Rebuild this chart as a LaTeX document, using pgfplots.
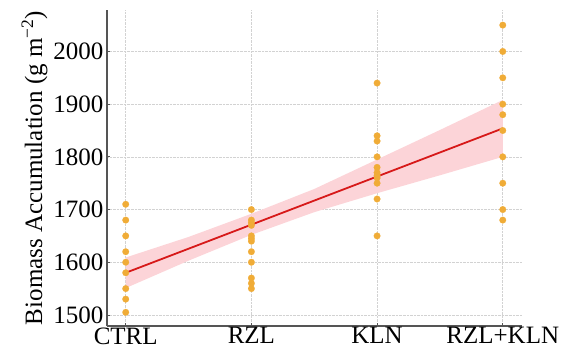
\documentclass[border=0pt]{standalone}
\usepackage{fontspec}
\setmainfont{Liberation Serif}
\usepackage{pgfplots}
\pgfplotsset{compat=1.18}
\definecolor{dotc}{RGB}{240,172,55}
\definecolor{linec}{RGB}{215,25,25}
\definecolor{bandc}{RGB}{252,212,216}
\definecolor{spinec}{RGB}{85,85,85}
\begin{document}
\begin{tikzpicture}[font=\rmfamily]
\begin{axis}[
  at={(0,0)}, anchor=south west,
  scale only axis, width=415bp, height=316bp,
  xmin=-0.149, xmax=3.153, ymin=1479, ymax=2078.7,
  axis lines*=left,
  axis line style={spinec, line width=1.1bp},
  xtick={0,1,2,3}, xticklabels={CTRL,RZL,KLN,RZL+KLN},
  ytick={1500,1600,1700,1800,1900,2000},
  font=\rmfamily\fontsize{25bp}{30bp}\selectfont,
  /pgf/number format/assume math mode=true,
  /pgf/number format/1000 sep={},
  grid=major, grid style={densely dotted, gray!35, line width=0.6bp},
  major tick length=3bp, tick align=inside, tick style={spinec, line width=0.8bp},
  xticklabel style={yshift=2bp},
  ylabel={Biomass Accumulation (g m\textsuperscript{−2})},
  ylabel style={at={(axis description cs:-0.135,0.5)}, anchor=south},
]
% confidence band (upper edge forward, lower edge backward)
\addplot[draw=none, fill=bandc] coordinates {
 (0,1609) (0.5,1648) (1,1692) (1.5,1739) (2,1795) (2.5,1851) (3,1908)
 (3,1800) (2.5,1765) (2,1731) (1.5,1695) (1,1652) (0.5,1603) (0,1551)
};
% regression line
\addplot[linec, line width=1.8bp] coordinates {(0,1580) (3,1854)};
% observations
\addplot[dotc, only marks, mark=*, mark size=3.3bp, mark options={solid, draw=dotc, fill=dotc, line width=0.2bp}] coordinates {
 (0,1710) (0,1680) (0,1650) (0,1620) (0,1600) (0,1580) (0,1550) (0,1530) (0,1505)
 (1,1700) (1,1680) (1,1675) (1,1670) (1,1650) (1,1645) (1,1640) (1,1620) (1,1600) (1,1570) (1,1560) (1,1550)
 (2,1940) (2,1840) (2,1830) (2,1800) (2,1780) (2,1770) (2,1765) (2,1760) (2,1750) (2,1720) (2,1650)
 (3,2050) (3,2000) (3,1950) (3,1900) (3,1880) (3,1850) (3,1800) (3,1750) (3,1700) (3,1680)
};
\end{axis}
\path[use as bounding box] (-107bp,-25bp) rectangle (466bp,326bp);
\end{tikzpicture}
\end{document}
